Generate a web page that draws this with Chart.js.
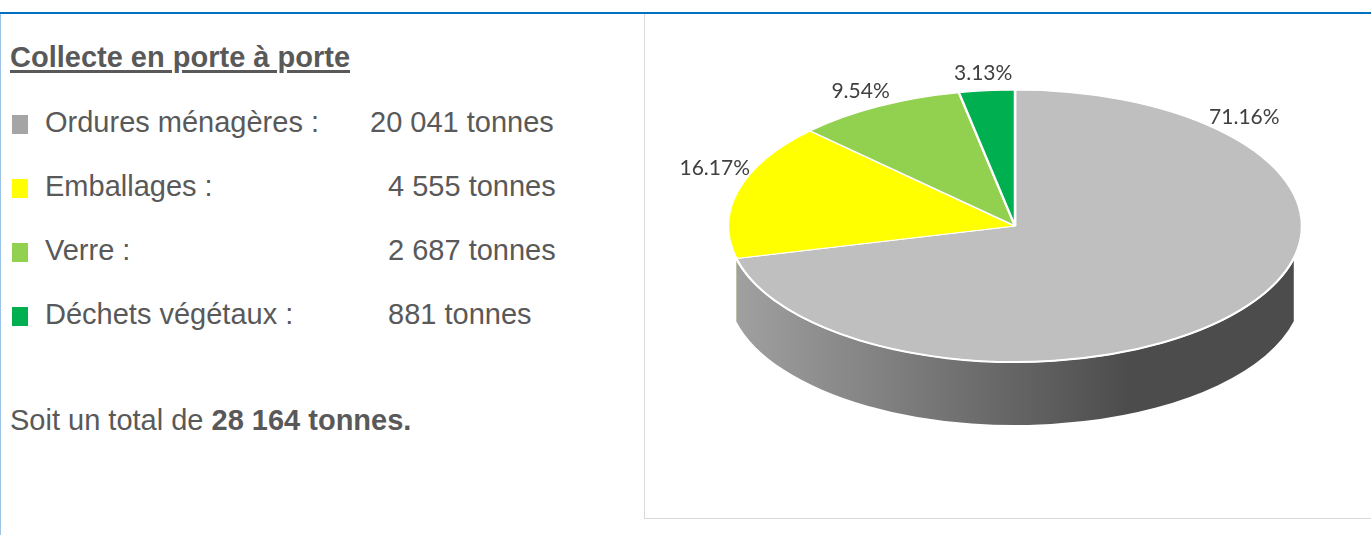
<!DOCTYPE html>
<html lang="fr">
<head>
<meta charset="utf-8">
<script src="https://cdn.jsdelivr.net/npm/chart.js@4/dist/chart.umd.min.js"></script>
<style>
  body { margin: 0; width: 1371px; height: 535px; overflow: hidden; background: #fff;
         font-family: "Liberation Sans", Arial, sans-serif; color: #595959; position: relative; }
  .topline { position: absolute; left: 0; top: 12px; width: 1371px; height: 2px; background: #0070C0; }
  .leftline { position: absolute; left: 0; top: 14px; width: 1px; height: 521px; background: #9DC3E6; }
  .title { position: absolute; left: 10px; top: 39px; font-size: 29px; line-height: 36px;
           font-weight: bold; text-decoration: underline; text-decoration-thickness: 3px; text-underline-offset: 3px; }
  .row { position: absolute; left: 12px; font-size: 29px; line-height: 36px; white-space: nowrap; }
  .row .sq { display: inline-block; width: 16px; height: 19px; vertical-align: -2px; margin-right: 17px; }
  .row .val { position: absolute; left: 376px; top: 0; }
  .row.first .val { left: 358px; }
  .total { position: absolute; left: 10px; top: 402px; font-size: 29px; line-height: 36px; }
  .box { position: absolute; left: 644px; top: 12px; width: 740px; height: 505px; border: 1px solid #D9D9D9; }
  canvas { position: absolute; left: 645px; top: 14px; }
</style>
</head>
<body>
<div class="box"></div>
<div class="topline"></div>
<div class="leftline"></div>
<div class="title">Collecte en porte à porte</div>
<div id="list"></div>
<div class="total" id="total"></div>
<canvas id="pie" width="726" height="503"></canvas>
<script>
// data
const categories = ["Ordures ménagères", "Emballages", "Verre", "Déchets végétaux"];
const tonnes = [20041, 4555, 2687, 881];
const pieColors = ["#BFBFBF", "#FFFF00", "#92D050", "#00B050"];
const squareColors = ["#A5A5A5", "#FFFF00", "#92D050", "#00B050"];

const total = tonnes.reduce((a, b) => a + b, 0);
const fmt = n => String(n).replace(/\B(?=(\d{3})+(?!\d))/g, " ");
const pct = v => (v / total * 100).toFixed(2) + "%";

// left text panel
const list = document.getElementById("list");
categories.forEach((c, i) => {
  const row = document.createElement("div");
  row.className = "row" + (i === 0 ? " first" : "");
  row.style.top = (104 + i * 64) + "px";
  row.innerHTML = '<span class="sq" style="background:' + squareColors[i] + '"></span>' +
    c + ' :<span class="val">' + fmt(tonnes[i]) + ' tonnes</span>';
  list.appendChild(row);
});
document.getElementById("total").innerHTML = "Soit un total de <b>" + fmt(total) + " tonnes.</b>";

function shade(hex, f) {
  const n = parseInt(hex.slice(1), 16);
  const r = Math.round(((n >> 16) & 255) * f), g = Math.round(((n >> 8) & 255) * f), b = Math.round((n & 255) * f);
  return "rgb(" + r + "," + g + "," + b + ")";
}

// fake 3D: squash the pie and paint the front wall under it
const pie3d = {
  id: "pie3d",
  beforeDatasetsDraw(chart, args, opts) {
    const ctx = chart.ctx;
    const arcs = chart.getDatasetMeta(0).data;
    this._saved = false;
    if (!arcs.length) return;
    const { x, y, outerRadius: r } = arcs[0].getProps(["x", "y", "outerRadius"], true);
    const ry = r * opts.tilt;
    const lo = opts.inset, hi = Math.PI - opts.inset;   // perspective hides the wall ends
    arcs.forEach(arc => {
      const { startAngle: s, endAngle: e } = arc.getProps(["startAngle", "endAngle"], true);
      const a0 = Math.max(s, lo), a1 = Math.min(e, hi);
      if (a1 <= a0) return;
      const base = arc.options.backgroundColor;
      const g = ctx.createLinearGradient(x - r, 0, x + r, 0);
      g.addColorStop(0, shade(base, 0.85));
      g.addColorStop(0.7, shade(base, 0.4));
      g.addColorStop(1, shade(base, 0.4));
      ctx.beginPath();
      ctx.ellipse(x, y, r, ry, 0, a0, a1);
      ctx.ellipse(x, y + opts.depth, r, ry, 0, a1, a0, true);
      ctx.closePath();
      ctx.fillStyle = g;
      ctx.fill();
    });
    ctx.save();
    ctx.translate(x, y);
    ctx.scale(1, opts.tilt);
    ctx.translate(-x, -y);
    this._saved = true;
  },
  afterDatasetsDraw(chart, args, opts) {
    const ctx = chart.ctx;
    if (!this._saved) return;
    ctx.restore();
    const arcs = chart.getDatasetMeta(0).data;
    const { x, y, outerRadius: r } = arcs[0].getProps(["x", "y", "outerRadius"], true);
    const ry = r * opts.tilt;
    // white rim between top face and wall
    ctx.beginPath();
    ctx.ellipse(x, y, r, ry, 0, opts.inset, Math.PI - opts.inset);
    ctx.strokeStyle = "#fff";
    ctx.lineWidth = 2;
    ctx.stroke();
    // percentage labels on the back half of each slice
    ctx.font = opts.font;
    ctx.fillStyle = opts.color;
    ctx.textAlign = "center";
    ctx.textBaseline = "middle";
    const data = chart.data.datasets[0].data;
    arcs.forEach((arc, i) => {
      const { startAngle: s, endAngle: e } = arc.getProps(["startAngle", "endAngle"], true);
      const parts = [[Math.max(s, -Math.PI / 2), Math.min(e, 0)], [Math.max(s, Math.PI), Math.min(e, 1.5 * Math.PI)]]
        .filter(p => p[1] > p[0]).sort((p, q) => (q[1] - q[0]) - (p[1] - p[0]));
      const a = parts.length ? (parts[0][0] + parts[0][1]) / 2 : (s + e) / 2;
      const k = opts.offset;
      ctx.fillText(pct(data[i]), x + Math.cos(a) * r * k, y + Math.sin(a) * ry * k);
    });
  }
};

new Chart(document.getElementById("pie"), {
  type: "pie",
  data: {
    labels: categories,
    datasets: [{
      data: tonnes,
      backgroundColor: pieColors,
      borderColor: "#ffffff",
      borderWidth: 2.5,
      radius: 287
    }]
  },
  options: {
    responsive: false,
    devicePixelRatio: 1,
    animation: false,
    events: [],
    layout: { padding: { left: 14, right: 0, top: 0, bottom: 79 } },
    plugins: {
      legend: { display: false },
      tooltip: { enabled: false },
      pie3d: { tilt: 0.474, depth: 63, inset: 0.24, offset: 1.13, font: "21px Lato", color: "#404040" }
    }
  },
  plugins: [pie3d]
});
</script>
</body>
</html>
